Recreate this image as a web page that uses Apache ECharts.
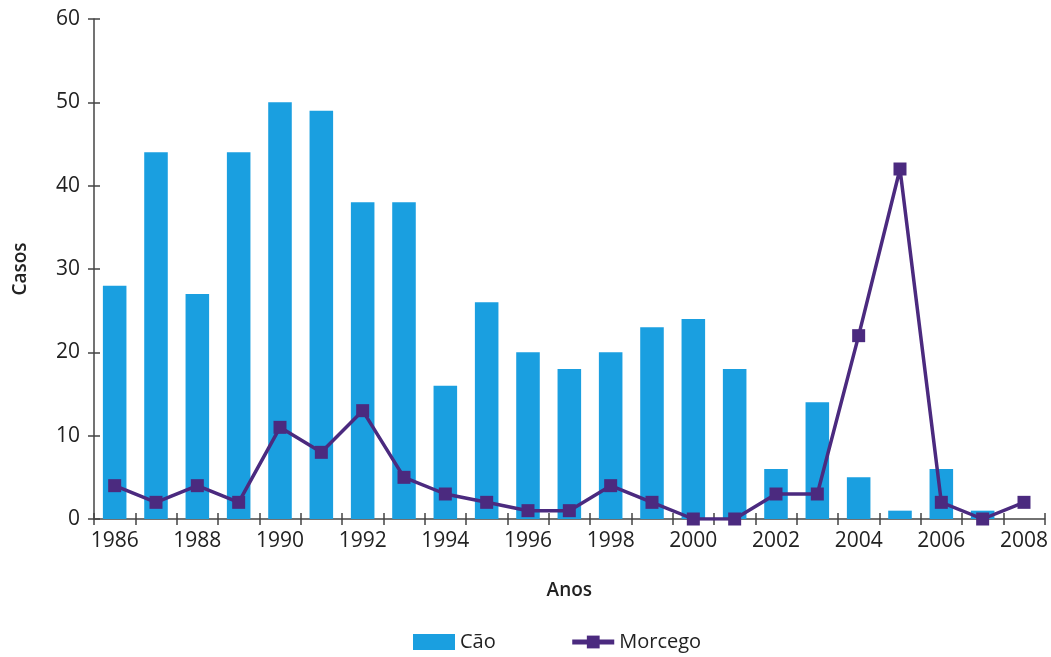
<!DOCTYPE html>
<html><head><meta charset="utf-8">
<script src="https://cdn.jsdelivr.net/npm/echarts@6/dist/echarts.min.js"></script>
<style>html,body{margin:0;padding:0;background:#fff}#c{width:1051px;height:657px}</style>
</head><body><div id="c"></div>
<script>
const years = ['1986','1987','1988','1989','1990','1991','1992','1993','1994','1995','1996','1997','1998','1999','2000','2001','2002','2003','2004','2005','2006','2007','2008'];
const cao = [28,44,27,44,50,49,38,38,16,26,20,18,20,23,24,18,6,14,5,1,6,1,0];
const morcego = [4,2,4,2,11,8,13,5,3,2,1,1,4,2,0,0,3,3,22,42,2,0,2];
const yTicks = [0,10,20,30,40,50,60];

const font = 'Open Sans';
const chart = echarts.init(document.getElementById('c'));
const axisCol = '#444';
const txt = '#222';
const purple = '#4b2a7f';
chart.setOption({
  animation:false,
  textStyle:{fontFamily:font},
  grid:{left:94,right:6,top:19,bottom:138},
  legend:{
    bottom:0,left:408,itemGap:74,itemWidth:42,itemHeight:16,
    textStyle:{fontSize:20,color:txt,fontFamily:font},
    data:[{name:'Cão',icon:'rect'},{name:'Morcego',lineStyle:{width:5,color:purple}}]
  },
  xAxis:[{
    type:'category',data:years,boundaryGap:true,
    name:'Anos',nameLocation:'middle',nameGap:62,
    nameTextStyle:{fontSize:19,color:txt,fontFamily:font,fontWeight:600},
    axisLine:{lineStyle:{color:axisCol,width:1.5}},
    axisTick:{show:true,interval:0,length:6,lineStyle:{color:axisCol,width:1.5}},
    axisLabel:{interval:1,fontSize:21,color:txt,margin:12,fontFamily:font}
  },{
    type:'category',data:years,boundaryGap:true,position:'bottom',
    axisLine:{show:false},
    axisTick:{show:true,inside:true,interval:0,length:6,lineStyle:{color:axisCol,width:1.5}},
    axisLabel:{show:false}
  }],
  yAxis:[{
    type:'value',min:0,max:60,interval:10,
    name:'Casos',nameLocation:'middle',nameGap:64,nameRotate:90,
    nameTextStyle:{fontSize:19,color:txt,fontFamily:font,fontWeight:600},
    axisLine:{show:true,lineStyle:{color:axisCol,width:1.5}},
    axisTick:{show:true,length:6,lineStyle:{color:axisCol,width:1.5}},
    splitLine:{show:false},
    axisLabel:{fontSize:21,color:txt,margin:14,fontFamily:font,
      formatter:v=>yTicks.includes(v)?String(v):''}
  },{
    type:'value',min:0,max:60,interval:10,position:'left',
    axisLine:{show:false},
    axisTick:{show:true,inside:true,length:6,lineStyle:{color:axisCol,width:1.5}},
    splitLine:{show:false},axisLabel:{show:false}
  }],
  series:[{
    name:'Cão',type:'bar',data:cao,barWidth:'57%',
    itemStyle:{color:'#1a9fe0'},z:1
  },{
    name:'Morcego',type:'line',data:morcego,
    symbol:'rect',symbolSize:13,
    lineStyle:{color:purple,width:3.5},
    itemStyle:{color:purple},z:3
  }]
});
</script></body></html>
